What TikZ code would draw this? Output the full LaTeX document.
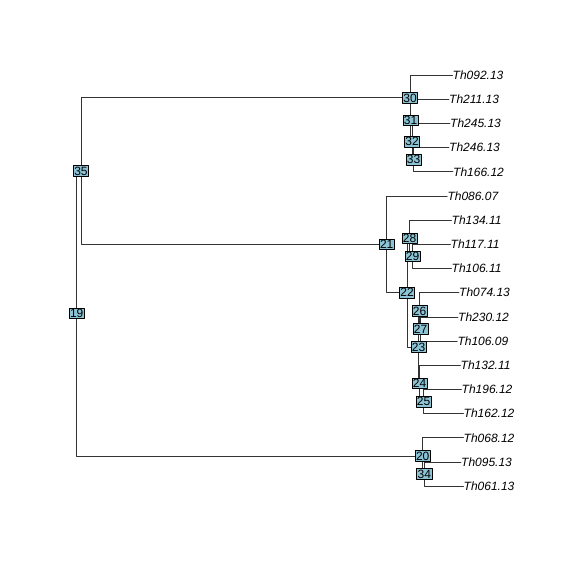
\documentclass[tikz,border=0pt]{standalone}
\usepackage{fontspec}
\newfontfamily\arialfont{Liberation Sans}
\definecolor{nodeblue}{RGB}{140,196,214}
\begin{document}
\begin{tikzpicture}[x=1pt, y=-1pt, line join=round, line cap=round,
		branch/.style={draw=black!80, line width=0.6pt},
		tiplab/.style={anchor=west, inner sep=0pt, text height=8.6pt, text depth=0pt, font=\arialfont\itshape\fontsize{12}{14}\selectfont},
		nodelab/.style={draw=black, fill=nodeblue, line width=0.5pt, inner sep=1pt, text height=8.6pt, text depth=0pt, font=\arialfont\fontsize{12}{14}\selectfont}]
				\useasboundingbox (0,0) rectangle (576,576);
				% tips
				\node[tiplab] (t09213) at (452.5,75) {Th092.13};
				\node[tiplab] (t21113) at (449,99.2) {Th211.13};
				\node[tiplab] (t24513) at (450,123.4) {Th245.13};
				\node[tiplab] (t24613) at (449,147.5) {Th246.13};
				\node[tiplab] (t16612) at (453,171.7) {Th166.12};
				\node[tiplab] (t08607) at (447.3,195.9) {Th086.07};
				\node[tiplab] (t13411) at (451.5,220.1) {Th134.11};
				\node[tiplab] (t11711) at (450.5,244.3) {Th117.11};
				\node[tiplab] (t10611) at (451.5,268.5) {Th106.11};
				\node[tiplab] (t07413) at (459,292.6) {Th074.13};
				\node[tiplab] (t23012) at (458,316.8) {Th230.12};
				\node[tiplab] (t10609) at (457.3,341) {Th106.09};
				\node[tiplab] (t13211) at (460.5,365.2) {Th132.11};
				\node[tiplab] (t19612) at (461.5,389.4) {Th196.12};
				\node[tiplab] (t16212) at (463.5,413.5) {Th162.12};
				\node[tiplab] (t06812) at (463.5,437.7) {Th068.12};
				\node[tiplab] (t09513) at (461,461.9) {Th095.13};
				\node[tiplab] (t06113) at (463.5,486.1) {Th061.13};
				% internal nodes
				\coordinate (n19) at (76.7,313.4);
				\coordinate (n35) at (81,171);
				\coordinate (n30) at (410,97.7);
				\coordinate (n31) at (410.5,120.4);
				\coordinate (n32) at (412,141.5);
				\coordinate (n33) at (413.5,159.6);
				\coordinate (n21) at (386.7,244.3);
				\coordinate (n22) at (407,292.6);
				\coordinate (n28) at (409.5,238.3);
				\coordinate (n29) at (412.5,256.4);
				\coordinate (n23) at (418.5,347);
				\coordinate (n26) at (419.5,310.8);
				\coordinate (n27) at (420.5,328.9);
				\coordinate (n24) at (419.5,383.3);
				\coordinate (n25) at (423.5,401.5);
				\coordinate (n20) at (422.7,455.9);
				\coordinate (n34) at (424.3,474);
				% branches
				\draw[branch] (n19) |- (n35) (n19) |- (n20)
					(n35) |- (n30) (n35) |- (n21);
				\draw[branch] (n30) |- (t09213.west) (n30) |- (n31)
					(n31) |- (t21113.west) (n31) |- (n32)
					(n32) |- (t24513.west) (n32) |- (n33)
					(n33) |- (t24613.west) (n33) |- (t16612.west);
				\draw[branch] (n21) |- (t08607.west) (n21) |- (n22)
					(n22) |- (n28) (n22) |- (n23)
					(n28) |- (t13411.west) (n28) |- (n29)
					(n29) |- (t11711.west) (n29) |- (t10611.west);
				\draw[branch] (n23) |- (n26) (n23) |- (n24)
					(n26) |- (t07413.west) (n26) |- (n27)
					(n27) |- (t23012.west) (n27) |- (t10609.west)
					(n24) |- (t13211.west) (n24) |- (n25)
					(n25) |- (t19612.west) (n25) |- (t16212.west);
				\draw[branch] (n20) |- (t06812.west) (n20) |- (n34)
					(n34) |- (t09513.west) (n34) |- (t06113.west);
				% node labels
				\node[nodelab] (l19) at (n19) {19};
				\node[nodelab] (l35) at (n35) {35};
				\node[nodelab] (l30) at (n30) {30};
				\node[nodelab] (l31) at (n31) {31};
				\node[nodelab] (l32) at (n32) {32};
				\node[nodelab] (l33) at (n33) {33};
				\node[nodelab] (l21) at (n21) {21};
				\node[nodelab] (l28) at (n28) {28};
				\node[nodelab] (l29) at (n29) {29};
				\node[nodelab] (l22) at (n22) {22};
				\node[nodelab] (l26) at (n26) {26};
				\node[nodelab] (l27) at (n27) {27};
				\node[nodelab] (l23) at (n23) {23};
				\node[nodelab] (l24) at (n24) {24};
				\node[nodelab] (l25) at (n25) {25};
				\node[nodelab] (l20) at (n20) {20};
				\node[nodelab] (l34) at (n34) {34};
		\end{tikzpicture}
\end{document}
